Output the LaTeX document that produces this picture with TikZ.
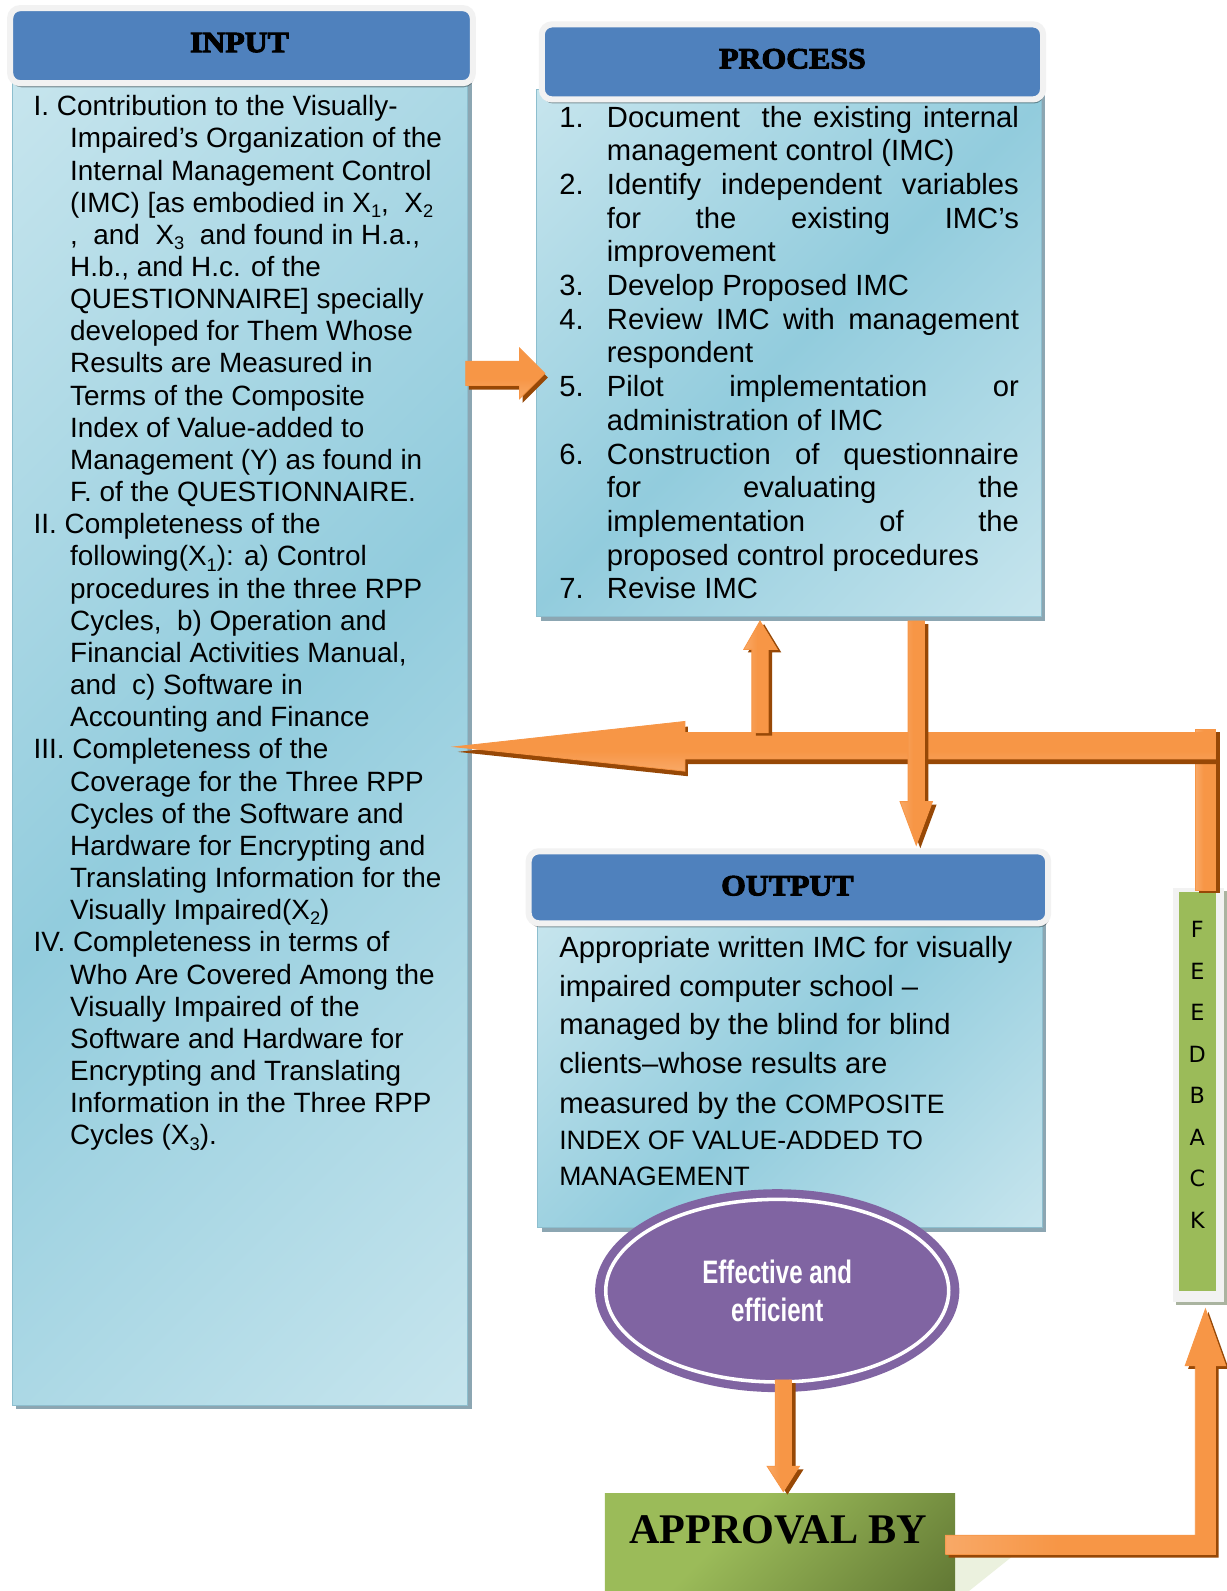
\documentclass[tikz,border=0pt]{standalone}
\usepackage{fontspec}
\setmainfont{Liberation Sans}
\newfontfamily\titlefont[FakeBold=3.5,FakeStretch=1.08]{Liberation Serif}
\newfontfamily\narrowfont[FakeStretch=0.74]{Liberation Sans}
\newfontfamily\serifbold{Liberation Serif}
\newfontfamily\fbfont{DejaVu Sans}
\usetikzlibrary{shapes.geometric,shadows}
\definecolor{hdrblue}{RGB}{79,129,189}
\definecolor{framegray}{RGB}{242,242,242}
\definecolor{bodydark}{RGB}{146,204,221}
\definecolor{bodylight}{RGB}{220,239,244}
\definecolor{bodyedge}{RGB}{141,190,206}
\definecolor{bodyshadow}{RGB}{140,166,178}
\definecolor{orangeA}{RGB}{247,150,70}
\definecolor{orangeL}{RGB}{250,192,144}
\definecolor{brownA}{RGB}{151,72,6}
\definecolor{purpleA}{RGB}{128,100,162}
\definecolor{greenA}{RGB}{155,187,89}
\definecolor{greenD}{RGB}{79,98,40}
\definecolor{greenL}{RGB}{235,241,222}
\definecolor{fbshadow}{RGB}{170,180,160}
\pgfdeclarehorizontalshading{bodysh}{100bp}{color(0bp)=(bodylight); color(50bp)=(bodydark); color(100bp)=(bodylight)}
\pgfdeclarehorizontalshading{greensh}{100bp}{color(0bp)=(greenA); color(40bp)=(greenA); color(100bp)=(greenD)}
\pgfdeclarehorizontalshading{orsh}{100bp}{color(0bp)=(orangeL); color(45bp)=(orangeA); color(100bp)=(orangeA)}
\newcommand\mysub[1]{\raisebox{-5pt}{\fontsize{18}{18}\selectfont #1}}
\newcommand\mycaps[1]{{\fontsize{26.2}{35.5}\selectfont\spaceskip=0pt\xspaceskip=0pt #1}}
\newcommand\myfat[3]{\fill[brownA,shift={#2}] #1; \path[#3] #1;}
\begin{document}
\begin{tikzpicture}[x=1pt,y=-1pt,
  bodybox/.style={rectangle, inner sep=0pt, outer sep=0pt, shading=bodysh, shading angle=-45, draw=bodyedge, line width=1pt,
     drop shadow={shadow xshift=4pt, shadow yshift=-4pt, fill=bodyshadow, opacity=1}},
  hdrbox/.style={rectangle, rounded corners=10pt, inner sep=0pt, fill=hdrblue, draw=framegray, line width=6pt,
     drop shadow={shadow xshift=1pt, shadow yshift=-4pt, fill=black, opacity=0.35}},
  titletext/.style={inner sep=0pt, font=\titlefont\bfseries\fontsize{29}{34}\selectfont},
  vfat/.style={draw=orangeA, line width=0.8pt, shading=orsh, shading angle=0},
  hfat/.style={draw=orangeA, line width=0.8pt, shading=orsh, shading angle=90}]
\useasboundingbox (0,0) rectangle (1209,1568);
\fill[white] (0,0) rectangle (1209,1568);

% bodies
\node[bodybox, minimum width=449pt, minimum height=1307pt] (inbody) at (236.5,731.5) {};
\node[bodybox, minimum width=497pt, minimum height=520pt] (procbody) at (777.5,348) {};

% input -> process arrow
\myfat{(459,356) -- (512,356) -- (512,343) -- (537,368) -- (512,393) -- (512,380) -- (459,380) -- cycle}{(3,4)}{hfat}

% headers
\node[hdrbox, minimum width=456pt, minimum height=74pt] (inhdr) at (238,45) {};
\node[titletext] (intitle) at (236,42) {INPUT};
\node[hdrbox, minimum width=494pt, minimum height=74pt] (prochdr) at (781,61) {};
\node[titletext] (proctitle) at (781,58) {PROCESS};

% input text
\node[anchor=base west, inner sep=0pt, text width=425pt, align=left, font=\fontsize{27.5}{31.7}\selectfont] (intext) at (33,114) {%
\spaceskip=0pt\xspaceskip=0pt
I. Contribution to the Visually-\\
\hspace*{36pt}Impaired’s Organization of the\\
\hspace*{36pt}Internal Management Control\\
\hspace*{36pt}(IMC) [as embodied in X\mysub{1},\ \ X\mysub{2}\\
\hspace*{36pt},\ \ and\ \ X\mysub{3}\ \ and found in H.a.,\\
\hspace*{36pt}H.b., and H.c. of the\\
\hspace*{36pt}QUESTIONNAIRE] specially\\
\hspace*{36pt}developed for Them Whose\\
\hspace*{36pt}Results are Measured in\\
\hspace*{36pt}Terms of the Composite\\
\hspace*{36pt}Index of Value-added to\\
\hspace*{36pt}Management (Y) as found in\\
\hspace*{36pt}F. of the QUESTIONNAIRE.\\
II. Completeness of the\\
\hspace*{36pt}following(X\mysub{1}): a) Control\\
\hspace*{36pt}procedures in the three RPP\\
\hspace*{36pt}Cycles,\ \ b) Operation and\\
\hspace*{36pt}Financial Activities Manual,\\
\hspace*{36pt}and\ \ c) Software in\\
\hspace*{36pt}Accounting and Finance\\
III. Completeness of the\\
\hspace*{36pt}Coverage for the Three RPP\\
\hspace*{36pt}Cycles of the Software and\\
\hspace*{36pt}Hardware for Encrypting and\\
\hspace*{36pt}Translating Information for the\\
\hspace*{36pt}Visually Impaired(X\mysub{2})\\
IV. Completeness in terms of\\
\hspace*{36pt}Who Are Covered Among the\\
\hspace*{36pt}Visually Impaired of the\\
\hspace*{36pt}Software and Hardware for\\
\hspace*{36pt}Encrypting and Translating\\
\hspace*{36pt}Information in the Three RPP\\
\hspace*{36pt}Cycles (X\mysub{3}).};

% process text
\node[anchor=base west, inner sep=0pt, text width=453pt, align=justify, font=\fontsize{28.8}{33.2}\selectfont] (proctext) at (551,125.3) {%
\parindent=0pt\tolerance=10000\hyphenpenalty=10000
\hangindent=47pt\hangafter=1\makebox[47pt][l]{1.}Document\ \ the existing internal\linebreak management control (IMC)\par
\hangindent=47pt\hangafter=1\makebox[47pt][l]{2.}Identify independent variables\linebreak for the existing IMC’s\linebreak improvement\par
\hangindent=47pt\hangafter=1\makebox[47pt][l]{3.}Develop Proposed IMC\par
\hangindent=47pt\hangafter=1\makebox[47pt][l]{4.}Review IMC with management\linebreak respondent\par
\hangindent=47pt\hangafter=1\makebox[47pt][l]{5.}Pilot implementation or\linebreak administration of IMC\par
\hangindent=47pt\hangafter=1\makebox[47pt][l]{6.}Construction of questionnaire\linebreak for evaluating the\linebreak implementation of the\linebreak proposed control procedures\par
\hangindent=47pt\hangafter=1\makebox[47pt][l]{7.}Revise IMC\par};

% feedback box
\node[rectangle, inner sep=0pt, fill=framegray, minimum width=50pt, minimum height=408pt,
      drop shadow={shadow xshift=3pt, shadow yshift=-3pt, fill=fbshadow, opacity=1}] (fbframe) at (1181,1079) {};
\node[rectangle, inner sep=0pt, fill=greenA, minimum width=36pt, minimum height=393pt] (fb) at (1180,1075.5) {};
\node[anchor=base, inner sep=0pt, text width=30pt, align=center, font=\fbfont\fontsize{22}{40.9}\selectfont] (fbtext) at (1180,924) {F\\E\\E\\D\\B\\A\\C\\K};

% feedback -> input arrow, arrows to/from process
\myfat{(1178,719) -- (1198,719) -- (1198,878) -- (1178,878) -- cycle}{(4,2)}{vfat}
\myfat{(1198,722) -- (675,722) -- (675,711) -- (448,736) -- (675,760) -- (675,748) -- (1198,748) -- cycle}{(3,5)}{hfat}
\myfat{(741,722) -- (741,640) -- (733,640) -- (749,612) -- (766,640) -- (757,640) -- (757,722) -- cycle}{(4,3)}{vfat}
\myfat{(895,612) -- (911,612) -- (911,790) -- (919,790) -- (903,833) -- (887,790) -- (895,790) -- cycle}{(4,3)}{vfat}

% output
\node[bodybox, minimum width=497pt, minimum height=305pt] (outbody) at (778.5,1057.5) {};
\node[hdrbox, minimum width=512pt, minimum height=71pt] (outhdr) at (777,874.5) {};
\node[titletext] (outtitle) at (776,873) {OUTPUT};
\node[anchor=base west, inner sep=0pt, text width=470pt, align=left, font=\fontsize{28.8}{38.3}\selectfont] (outtext) at (551,943.3) {%
\spaceskip=0pt\xspaceskip=0pt
Appropriate written IMC for visually\\
impaired computer school –\\
managed by the blind for blind\\
clients–whose results are\par
\vspace{3.2pt}
{\fontsize{28.8}{35.5}\selectfont\spaceskip=0pt\xspaceskip=0pt measured by the \mycaps{COMPOSITE}\\
\mycaps{INDEX OF VALUE-ADDED TO}\\
\mycaps{MANAGEMENT}\par}};

% ellipse
\node[ellipse, minimum width=359pt, minimum height=200pt, fill=purpleA, inner sep=0pt,
      text=white, align=center, font=\narrowfont\bfseries\fontsize{32}{38}\selectfont] (eff) at (766,1272) {Effective and\\efficient};
\draw[white, line width=3.5pt] (eff.center) ellipse [x radius=169, y radius=90];

% approval
\fill[greenL] (941,1532) -- (1000,1532) -- (955,1568) -- (941,1568) -- cycle;
\node[rectangle, anchor=north west, inner sep=0pt, minimum width=345pt, minimum height=96pt, shading=greensh, shading angle=-45] (appr) at (596,1472) {};
\node[inner sep=0pt, font=\serifbold\bfseries\fontsize{41.6}{48}\selectfont] (apprtext) at (767,1508) {APPROVAL BY};

\myfat{(764,1360) -- (780,1360) -- (780,1445) -- (788,1445) -- (772,1470) -- (756,1445) -- (764,1445) -- cycle}{(4,3)}{vfat}
\myfat{(932,1513) -- (1178,1513) -- (1178,1346) -- (1168,1346) -- (1188,1290) -- (1208,1346) -- (1198,1346) -- (1198,1532) -- (932,1532) -- cycle}{(3,3)}{vfat}
\end{tikzpicture}
\end{document}
